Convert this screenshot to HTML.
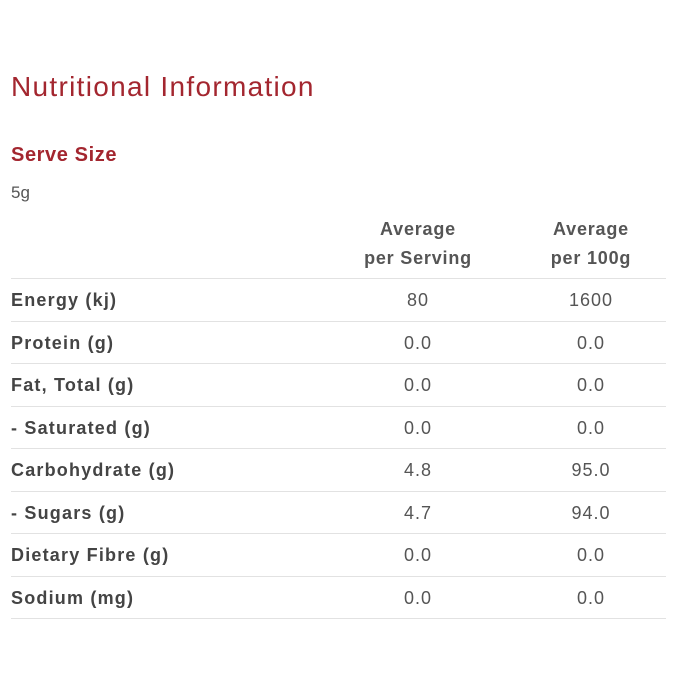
<!DOCTYPE html>
<html><head><meta charset="utf-8"><style>
body{margin:0;width:700px;height:700px;background:#fff;font-family:"Liberation Sans",sans-serif;color:#444;position:relative;overflow:hidden}
.a{position:absolute;white-space:nowrap}
.title{left:11px;top:71px;font-size:28px;color:#a3262f;letter-spacing:1.3px}
.sub{left:11px;top:144px;font-size:20px;color:#a3262f;font-weight:bold;letter-spacing:0.6px}
.ss{left:11px;top:183px;font-size:17px;color:#555}
.h{font-size:18px;font-weight:bold;color:#555;text-align:center;width:180px;line-height:29px;top:215px;letter-spacing:0.8px}
.row{position:absolute;left:11px;width:655px;height:42.5px;border-top:1px solid #e2e2e2;font-size:18px}
.row span{position:absolute;top:11px}
.l{left:0;font-weight:bold;color:#444;letter-spacing:1.2px}
.v1{left:317px;width:180px;text-align:center;color:#555;letter-spacing:1px}
.v2{left:490px;width:180px;text-align:center;color:#555;letter-spacing:1px}
</style></head><body>
<div class="a title">Nutritional Information</div>
<div class="a sub">Serve Size</div>
<div class="a ss">5g</div>
<div class="a h" style="left:328px">Average<br>per Serving</div>
<div class="a h" style="left:501px">Average<br>per 100g</div>
<div id="tbl"></div>
<div class="row" style="top:618px;height:1px"></div>
<script>
const labels=["Energy (kj)","Protein (g)","Fat, Total (g)","- Saturated (g)","Carbohydrate (g)","- Sugars (g)","Dietary Fibre (g)","Sodium (mg)"];
const perServing=["80","0.0","0.0","0.0","4.8","4.7","0.0","0.0"];
const per100g=["1600","0.0","0.0","0.0","95.0","94.0","0.0","0.0"];
const tbl=document.getElementById('tbl');
labels.forEach((lab,i)=>{
const r=document.createElement('div');r.className='row';r.style.top=(278+i*42.5)+'px';


const a=document.createElement('span');a.className='l';a.textContent=lab;


const b=document.createElement('span');b.className='v1';b.textContent=perServing[i];


const c=document.createElement('span');c.className='v2';c.textContent=per100g[i];


r.append(a,b,c);tbl.appendChild(r);
});
</script>
</body></html>
